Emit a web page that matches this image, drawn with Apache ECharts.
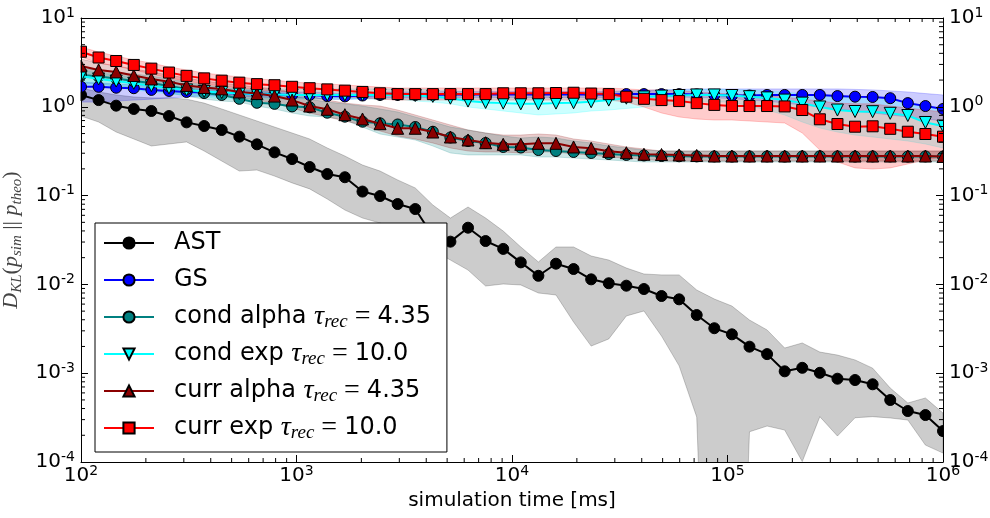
<!DOCTYPE html>
<html>
<head>
<meta charset="utf-8">
<script src="https://cdn.jsdelivr.net/npm/echarts@6/dist/echarts.min.js"></script>
<style>
  html, body { margin: 0; padding: 0; background: #fff; }
  #chart { width: 990px; height: 518px; }
</style>
</head>
<body>
<div id="chart"></div>
<script>
// Sampling times of the simulation [ms] (log-spaced)
const times = [100, 120.7, 145.6, 175.8, 212.1, 256.0, 308.9, 372.8, 449.8, 542.9,
  655.1, 790.6, 954.1, 1151, 1389, 1677, 2024, 2442, 2947, 3556,
  4292, 5179, 6251, 7543, 9103, 10985, 13257, 15999, 19307, 23300,
  28118, 33932, 40949, 49417, 59636, 71969, 86851, 104811, 126486, 152642,
  184207, 222300, 268270, 323746, 390694, 471487, 568987, 686649, 828643, 1000000];

// AST
const astMean = [1.36, 1.19, 1.03, 0.945, 0.897, 0.787, 0.668, 0.608, 0.548, 0.461,
  0.378, 0.307, 0.258, 0.210, 0.175, 0.161, 0.111, 0.0989, 0.0804, 0.0706,
  0.0351, 0.0303, 0.0435, 0.0308, 0.0251, 0.0177, 0.0125, 0.0171, 0.0149, 0.0114,
  0.0103, 0.00967, 0.00887, 0.00740, 0.00679, 0.00452, 0.00321, 0.00274, 0.00199, 0.00164,
  0.00105, 0.00115, 0.00101, 0.000867, 0.000838, 0.000750, 0.000499, 0.000375, 0.000338, 0.000223];
const astHigh = [1.63, 1.47, 1.36, 1.29, 1.26, 1.26, 1.22, 1.10, 0.945, 0.809,
  0.692, 0.592, 0.507, 0.434, 0.344, 0.279, 0.221, 0.189, 0.150, 0.122,
  0.0784, 0.0559, 0.0744, 0.0559, 0.0399, 0.0264, 0.0179, 0.0264, 0.0264, 0.0209,
  0.0188, 0.0153, 0.0131, 0.0128, 0.0128, 0.00865, 0.00685, 0.00571, 0.00397, 0.00307,
  0.00192, 0.00219, 0.00173, 0.00160, 0.00141, 0.00114, 0.000681, 0.000462, 0.000526, 0.000356];
const astLow = [0.788, 0.674, 0.520, 0.434, 0.362, 0.381, 0.402, 0.318, 0.245, 0.189,
  0.194, 0.166, 0.139, 0.119, 0.0915, 0.0688, 0.0559, 0.0491, 0.0410, 0.0316,
  0.0244, 0.0188, 0.0145, 0.00959, 0.0101, 0.00985, 0.00800, 0.00760, 0.00377, 0.00202,
  0.00243, 0.00441, 0.00502, 0.00262, 0.00121, 0.000321, 0, 0, 0.000219, 0.000254,
  0.000229, 0.000101, 0.000324, 0.000196, 0.000315, 0.000324, 0.000313, 0.000297, 0.000155, 0.000126];

// GS
const gsMean = [1.68, 1.68, 1.64, 1.62, 1.55, 1.51, 1.47, 1.45, 1.43, 1.41,
  1.39, 1.38, 1.36, 1.36, 1.32, 1.31, 1.34, 1.36, 1.36, 1.36,
  1.36, 1.38, 1.38, 1.38, 1.38, 1.38, 1.38, 1.38, 1.38, 1.38,
  1.38, 1.39, 1.39, 1.39, 1.39, 1.38, 1.36, 1.34, 1.34, 1.36,
  1.36, 1.36, 1.36, 1.32, 1.30, 1.29, 1.25, 1.10, 1.02, 0.945];
const gsHigh = [1.90, 1.85, 1.81, 1.76, 1.71, 1.67, 1.63, 1.57, 1.55, 1.53,
  1.51, 1.49, 1.47, 1.47, 1.43, 1.41, 1.45, 1.47, 1.47, 1.47,
  1.47, 1.49, 1.49, 1.49, 1.49, 1.49, 1.49, 1.49, 1.49, 1.49,
  1.49, 1.51, 1.53, 1.55, 1.57, 1.59, 1.59, 1.59, 1.59, 1.59,
  1.59, 1.59, 1.59, 1.59, 1.57, 1.55, 1.51, 1.47, 1.41, 1.36];
const gsLow = [1.13, 1.13, 1.16, 1.19, 1.22, 1.26, 1.29, 1.33, 1.32, 1.31,
  1.29, 1.27, 1.26, 1.26, 1.22, 1.21, 1.24, 1.26, 1.26, 1.26,
  1.26, 1.27, 1.27, 1.27, 1.27, 1.27, 1.27, 1.27, 1.27, 1.27,
  1.27, 1.29, 1.29, 1.29, 1.29, 1.27, 1.26, 1.24, 1.19, 1.16,
  1.10, 1.05, 0.995, 0.945, 0.897, 0.852, 0.809, 0.768, 0.729, 0.692];

// cond alpha, tau_rec = 4.35
const condAlphaMean = [2.28, 2.19, 2.08, 1.95, 1.85, 1.71, 1.59, 1.43, 1.36, 1.23,
  1.11, 1.08, 1.01, 0.987, 0.858, 0.774, 0.680, 0.652, 0.632, 0.592,
  0.524, 0.451, 0.412, 0.391, 0.353, 0.348, 0.326, 0.318, 0.310, 0.302,
  0.294, 0.287, 0.283, 0.279, 0.277, 0.276, 0.276, 0.275, 0.276, 0.276,
  0.275, 0.276, 0.277, 0.276, 0.275, 0.276, 0.276, 0.275, 0.276, 0.275];
const condAlphaHigh = [2.73, 2.60, 2.47, 2.34, 2.22, 2.06, 1.90, 1.76, 1.67, 1.59,
  1.51, 1.43, 1.32, 1.22, 1.13, 1.08, 1.02, 0.945, 0.874, 0.768,
  0.674, 0.592, 0.548, 0.507, 0.469, 0.445, 0.457, 0.445, 0.412, 0.391,
  0.362, 0.344, 0.326, 0.318, 0.318, 0.318, 0.318, 0.318, 0.318, 0.318,
  0.318, 0.318, 0.318, 0.318, 0.318, 0.318, 0.318, 0.318, 0.318, 0.318];
const condAlphaLow = [1.85, 1.81, 1.71, 1.63, 1.55, 1.43, 1.32, 1.22, 1.16, 1.13,
  1.02, 0.945, 0.852, 0.788, 0.768, 0.710, 0.592, 0.494, 0.457, 0.423,
  0.362, 0.302, 0.287, 0.287, 0.287, 0.287, 0.272, 0.272, 0.265, 0.258,
  0.252, 0.245, 0.239, 0.239, 0.239, 0.239, 0.239, 0.239, 0.239, 0.239,
  0.239, 0.239, 0.239, 0.239, 0.239, 0.239, 0.239, 0.239, 0.239, 0.239];

// cond exp, tau_rec = 10.0
const condExpMean = [2.22, 2.06, 1.95, 1.84, 1.73, 1.63, 1.55, 1.49, 1.45, 1.41,
  1.39, 1.38, 1.36, 1.36, 1.36, 1.36, 1.36, 1.36, 1.36, 1.34,
  1.31, 1.25, 1.16, 1.12, 1.10, 1.08, 1.08, 1.10, 1.11, 1.14,
  1.19, 1.25, 1.29, 1.32, 1.34, 1.36, 1.36, 1.34, 1.30, 1.26,
  1.19, 1.10, 0.995, 0.920, 0.885, 0.881, 0.845, 0.798, 0.666, 0.608];
const condExpHigh = [2.60, 2.40, 2.28, 2.11, 2.00, 1.90, 1.81, 1.71, 1.59, 1.59,
  1.59, 1.59, 1.59, 1.59, 1.59, 1.59, 1.59, 1.59, 1.59, 1.59,
  1.55, 1.51, 1.47, 1.43, 1.39, 1.36, 1.36, 1.39, 1.39, 1.43,
  1.47, 1.51, 1.51, 1.55, 1.55, 1.55, 1.59, 1.55, 1.55, 1.51,
  1.47, 1.39, 1.32, 1.29, 1.26, 1.22, 1.19, 1.13, 1.02, 0.920];
const condExpLow = [1.81, 1.71, 1.63, 1.55, 1.47, 1.39, 1.36, 1.29, 1.22, 1.22,
  1.22, 1.22, 1.22, 1.22, 1.22, 1.22, 1.22, 1.22, 1.22, 1.16,
  1.13, 1.08, 0.995, 0.945, 0.897, 0.852, 0.809, 0.830, 0.852, 0.897,
  0.920, 0.957, 0.995, 1.05, 1.08, 1.13, 1.13, 1.13, 1.02, 0.920,
  0.809, 0.674, 0.577, 0.520, 0.481, 0.457, 0.434, 0.412, 0.381, 0.344];

// curr alpha, tau_rec = 4.35
const currAlphaMean = [2.88, 2.60, 2.47, 2.25, 2.06, 1.92, 1.74, 1.65, 1.59, 1.47,
  1.41, 1.32, 1.19, 1.02, 0.937, 0.815, 0.729, 0.645, 0.573, 0.573,
  0.520, 0.457, 0.423, 0.394, 0.378, 0.378, 0.388, 0.388, 0.353, 0.341,
  0.315, 0.304, 0.292, 0.290, 0.287, 0.283, 0.279, 0.279, 0.279, 0.279,
  0.279, 0.279, 0.279, 0.279, 0.279, 0.279, 0.279, 0.279, 0.279, 0.276];
const currAlphaHigh = [3.45, 3.11, 2.88, 2.67, 2.47, 2.28, 2.11, 1.95, 1.85, 1.76,
  1.67, 1.59, 1.47, 1.32, 1.19, 1.10, 1.05, 1.02, 0.920, 0.809,
  0.710, 0.624, 0.548, 0.507, 0.481, 0.481, 0.494, 0.481, 0.434, 0.412,
  0.381, 0.353, 0.335, 0.318, 0.318, 0.318, 0.318, 0.318, 0.318, 0.318,
  0.318, 0.318, 0.318, 0.318, 0.318, 0.318, 0.318, 0.318, 0.318, 0.318];
const currAlphaLow = [2.40, 2.17, 2.06, 1.90, 1.76, 1.63, 1.51, 1.43, 1.36, 1.26,
  1.19, 1.10, 0.969, 0.852, 0.768, 0.692, 0.624, 0.534, 0.469, 0.434,
  0.391, 0.344, 0.318, 0.310, 0.310, 0.302, 0.310, 0.310, 0.294, 0.287,
  0.272, 0.265, 0.258, 0.245, 0.245, 0.245, 0.245, 0.245, 0.245, 0.245,
  0.245, 0.245, 0.245, 0.245, 0.245, 0.245, 0.245, 0.245, 0.245, 0.245];

// curr exp, tau_rec = 10.0
const currExpMean = [4.17, 3.59, 3.28, 2.96, 2.69, 2.43, 2.23, 2.09, 1.97, 1.87,
  1.80, 1.75, 1.68, 1.62, 1.57, 1.52, 1.47, 1.42, 1.39, 1.39,
  1.39, 1.39, 1.39, 1.39, 1.42, 1.42, 1.42, 1.43, 1.44, 1.41,
  1.39, 1.30, 1.23, 1.19, 1.16, 1.10, 1.05, 1.02, 1.02, 1.02,
  1.01, 0.920, 0.723, 0.640, 0.597, 0.603, 0.565, 0.524, 0.494, 0.461];
const currExpHigh = [4.71, 4.14, 3.73, 3.37, 3.11, 2.81, 2.60, 2.40, 2.28, 2.17,
  2.06, 2.00, 1.90, 1.85, 1.81, 1.76, 1.71, 1.67, 1.63, 1.63,
  1.63, 1.63, 1.63, 1.63, 1.63, 1.63, 1.63, 1.63, 1.63, 1.63,
  1.63, 1.59, 1.55, 1.55, 1.51, 1.47, 1.43, 1.39, 1.36, 1.32,
  1.29, 1.22, 1.16, 1.10, 1.08, 1.08, 1.02, 0.969, 0.920, 0.874];
const currExpLow = [3.64, 3.11, 2.88, 2.60, 2.34, 2.11, 1.95, 1.81, 1.71, 1.63,
  1.55, 1.51, 1.47, 1.39, 1.36, 1.29, 1.26, 1.22, 1.19, 1.19,
  1.19, 1.19, 1.19, 1.19, 1.19, 1.19, 1.19, 1.19, 1.19, 1.19,
  1.19, 1.13, 0.995, 0.852, 0.768, 0.729, 0.710, 0.710, 0.692, 0.674,
  0.657, 0.507, 0.326, 0.239, 0.205, 0.199, 0.205, 0.227, 0.252, 0.272];

// Axis ranges and minor tick positions (2..9 within each decade)
const xRange = [1e2, 1e6];
const yRange = [1e-4, 1e1];
const xDecades = [1e2, 1e3, 1e4, 1e5];
const yDecades = [1e-4, 1e-3, 1e-2, 1e-1, 1];
const minorSteps = [2, 3, 4, 5, 6, 7, 8, 9];

// Recovery time constants shown in the legend
const tauRec = { 'cond alpha': '4.35', 'cond exp': '10.0', 'curr alpha': '4.35', 'curr exp': '10.0' };

const W = 990, H = 518;
const GRID = { left: 81, right: 47, top: 18, bottom: 56 };
const SANS = 'DejaVu Sans';
const SERIF = 'Liberation Serif';

const chart = echarts.init(document.getElementById('chart'), null, { renderer: 'canvas', width: W, height: H });

const pairs = arr => times.map((t, i) => [t, arr[i]]);

// Shaded spread band between a lower and an upper curve
function band(name, low, high, color) {
  return {
    name: name, type: 'custom', z: 1, silent: true, clip: true,
    xAxisIndex: 0, yAxisIndex: 0,
    data: pairs(high),
    encode: { x: 0, y: 1 },
    renderItem: function (params, api) {
      if (params.dataIndex !== 0) return null;
      const pts = [];
      for (let i = 0; i < times.length; i++) pts.push(api.coord([times[i], high[i]]));
      for (let i = times.length - 1; i >= 0; i--) {
        const v = low[i] > 0 ? low[i] : 1e-9;   // non-positive bounds fall off the log axis
        pts.push(api.coord([times[i], v]));
      }
      return { type: 'polygon', shape: { points: pts }, style: { fill: color, stroke: color, lineWidth: 1 } };
    }
  };
}

function line(name, values, color, symbol, size, z) {
  return {
    name: name, type: 'line', z: z, data: pairs(values),
    symbol: symbol, symbolSize: size,
    lineStyle: { color: color, width: 2 },
    itemStyle: { color: color, borderColor: '#000', borderWidth: 1 },
    emphasis: { disabled: true }
  };
}

const powLabel = v => '{b|10}{p|' + Math.round(Math.log10(v)) + '}';
const tickRich = {
  b: { fontFamily: SANS, fontSize: 20, lineHeight: 24, color: '#000' },
  p: { fontFamily: SANS, fontSize: 14, lineHeight: 14, verticalAlign: 'top', color: '#000' }
};
const axisCommon = {
  type: 'log', logBase: 10, z: 12,
  axisLine: { show: true, onZero: false, lineStyle: { color: '#000', width: 1 } },
  axisTick: { show: true, inside: true, length: 7, lineStyle: { color: '#000', width: 1 } },
  splitLine: { show: false }
};

const option = {
  animation: false,
  backgroundColor: '#fff',
  grid: {
    left: GRID.left, right: GRID.right, top: GRID.top, bottom: GRID.bottom,
    containLabel: false, outerBoundsMode: 'none'
  },
  xAxis: [
    Object.assign({}, axisCommon, {
      position: 'bottom', min: xRange[0], max: xRange[1],
      axisLabel: { formatter: powLabel, rich: tickRich, margin: 2, showMinLabel: true, showMaxLabel: true },
      name: 'simulation time [ms]', nameLocation: 'middle', nameGap: 26,
      nameTextStyle: { fontFamily: SANS, fontSize: 20, color: '#000' }
    }),
    Object.assign({}, axisCommon, {
      position: 'top', min: xRange[0], max: xRange[1], axisLabel: { show: false }
    })
  ],
  yAxis: [
    Object.assign({}, axisCommon, {
      position: 'left', min: yRange[0], max: yRange[1],
      axisLabel: { formatter: powLabel, rich: tickRich, margin: 6, showMinLabel: true, showMaxLabel: true },
      name: '{i|D}{s|KL}{u|(}{i|p}{s|sim}{u| || }{i|p}{s|theo}{u|)}',
      nameLocation: 'middle', nameRotate: 90, nameGap: 50,
      nameTextStyle: {
        color: '#444',
        rich: {
          i: { fontFamily: SERIF, fontStyle: 'italic', fontSize: 22, lineHeight: 26, color: '#444' },
          u: { fontFamily: SERIF, fontSize: 22, lineHeight: 26, color: '#444' },
          s: { fontFamily: SERIF, fontStyle: 'italic', fontSize: 15, lineHeight: 12, verticalAlign: 'bottom', color: '#444' }
        }
      }
    }),
    Object.assign({}, axisCommon, {
      position: 'right', min: yRange[0], max: yRange[1],
      axisLabel: { formatter: powLabel, rich: tickRich, margin: 6, showMinLabel: true, showMaxLabel: true }
    })
  ],
  legend: {
    show: true, z: 20, selectedMode: false,
    left: 95, top: 223, orient: 'vertical',
    padding: [6, 16, 10, 8], itemGap: 9,
    itemWidth: 50, itemHeight: 14,
    backgroundColor: '#fff', borderColor: '#000', borderWidth: 1, borderRadius: 0,
    data: ['AST', 'GS', 'cond alpha', 'cond exp', 'curr alpha', 'curr exp'],
    formatter: function (name) {
      return tauRec[name] ? name + ' {t|τ}{s|rec}{e| = }' + tauRec[name] : name;
    },
    textStyle: {
      fontFamily: SANS, fontSize: 24, lineHeight: 28, color: '#000', padding: [0, 0, 0, 15],
      rich: {
        t: { fontFamily: SERIF, fontStyle: 'italic', fontSize: 28, lineHeight: 28, color: '#000' },
        s: { fontFamily: SERIF, fontStyle: 'italic', fontSize: 19, lineHeight: 12, verticalAlign: 'bottom', color: '#000' },
        e: { fontFamily: SERIF, fontSize: 28, lineHeight: 28, color: '#000' }
      }
    }
  },
  // White margins hide the parts of markers that spill past the plot frame
  graphic: [
    { type: 'rect', z: 9, silent: true, shape: { x: 0, y: 0, width: GRID.left - 0.5, height: H }, style: { fill: '#fff' } },
    { type: 'rect', z: 9, silent: true, shape: { x: W - GRID.right + 0.5, y: 0, width: GRID.right, height: H }, style: { fill: '#fff' } },
    { type: 'rect', z: 9, silent: true, shape: { x: 0, y: 0, width: W, height: GRID.top - 0.5 }, style: { fill: '#fff' } },
    { type: 'rect', z: 9, silent: true, shape: { x: 0, y: H - GRID.bottom + 0.5, width: W, height: GRID.bottom }, style: { fill: '#fff' } }
  ],
  series: [
    band('AST band', astLow, astHigh, 'rgba(0,0,0,0.2)'),
    band('GS band', gsLow, gsHigh, 'rgba(0,0,255,0.2)'),
    band('cond alpha band', condAlphaLow, condAlphaHigh, 'rgba(0,128,128,0.2)'),
    band('cond exp band', condExpLow, condExpHigh, 'rgba(0,255,255,0.2)'),
    band('curr alpha band', currAlphaLow, currAlphaHigh, 'rgba(139,0,0,0.2)'),
    band('curr exp band', currExpLow, currExpHigh, 'rgba(255,0,0,0.2)'),
    line('AST', astMean, '#000000', 'circle', 11, 2),
    line('GS', gsMean, '#0000ff', 'circle', 11, 3),
    line('cond alpha', condAlphaMean, '#008080', 'circle', 11, 4),
    line('cond exp', condExpMean, '#00ffff', 'path://M0,0L10,0L5,10Z', 12, 5),
    line('curr alpha', currAlphaMean, '#8b0000', 'triangle', 12, 6),
    line('curr exp', currExpMean, '#ff0000', 'rect', 11, 7),
    {
      // minor log ticks on all four sides of the frame
      name: 'minor ticks', type: 'custom', z: 11, silent: true,
      xAxisIndex: 0, yAxisIndex: 0,
      data: [[xRange[0], yRange[0]]],
      renderItem: function (params, api) {
        const cs = params.coordSys;
        const children = [];
        const seg = (x1, y1, x2, y2) => children.push({
          type: 'line', shape: { x1: x1, y1: y1, x2: x2, y2: y2 }, style: { stroke: '#000', lineWidth: 1 }
        });
        xDecades.forEach(d => minorSteps.forEach(m => {
          const px = api.coord([d * m, 1])[0];
          seg(px, cs.y + cs.height, px, cs.y + cs.height - 4);
          seg(px, cs.y, px, cs.y + 4);
        }));
        yDecades.forEach(d => minorSteps.forEach(m => {
          const py = api.coord([1000, d * m])[1];
          seg(cs.x, py, cs.x + 4, py);
          seg(cs.x + cs.width, py, cs.x + cs.width - 4, py);
        }));
        return { type: 'group', children: children };
      }
    }
  ]
};

chart.setOption(option);
</script>
</body>
</html>
